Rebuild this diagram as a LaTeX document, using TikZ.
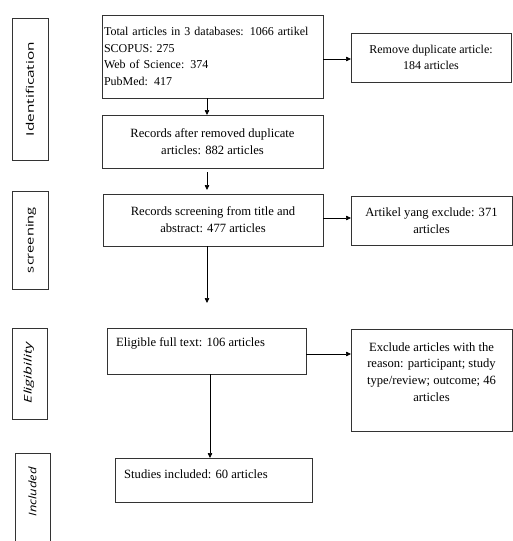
\documentclass[tikz,border=0pt]{standalone}
\usepackage{graphicx}
\usepackage{fontspec}
\setmainfont{Liberation Serif}
\newfontfamily\lblfont{Open Sans}
\usetikzlibrary{arrows.meta}
\newcommand{\fsA}{\fontsize{12}{16.7}\selectfont}
\newcommand{\fsB}{\fontsize{12.6}{16.7}\selectfont}
\begin{document}
\begin{tikzpicture}[x=1pt,y=-1pt,
  box/.style={draw=black!80, line width=0.9pt, inner sep=0pt, outer sep=0pt},
  flow/.style={draw=black, line width=0.7pt, -{Triangle[length=5pt,width=4.5pt]}},
  lbl/.style={rotate=90, inner sep=0pt, font=\lblfont\fontsize{10.5}{10.5}\selectfont},
  txt/.style={inner sep=0pt, align=center}]
\useasboundingbox (0,0) rectangle (513,541);
\fill[white] (0,0) rectangle (513,541);

% stage label boxes
\node[box, minimum width=36pt, minimum height=142pt] (li) at (30,89) {};
\node[lbl] (lit) at (30,89) {\resizebox{94pt}{\height}{Identification}};
\node[box, minimum width=36pt, minimum height=98pt] (ls) at (30,240) {};
\node[lbl] (lst) at (31,240) {\resizebox{66pt}{\height}{screening}};
\node[box, minimum width=35pt, minimum height=91pt] (le) at (29.5,373.5) {};
\node[lbl, font=\lblfont\itshape\fontsize{10.5}{10.5}\selectfont] (let) at (29,372.5) {\resizebox{61pt}{\height}{Eligibility}};
\draw[draw=black!80, line width=0.9pt] (15,545) -- (15,453) -- (50,453) -- (50,545);
\node[lbl, font=\lblfont\itshape\fontsize{10.5}{10.5}\selectfont] (lnt) at (32.5,492) {\resizebox{49pt}{\height}{Included}};

% main flow boxes
\node[box, minimum height=83pt, inner xsep=2pt, text width=217pt, align=left, font=\fsA] (b1) at (212.5,56.5)
  {Total articles in 3 databases: 1066 artikel\\ SCOPUS: 275\\ Web of Science: 374\\ PubMed: 417};
\node[box, minimum width=221pt, minimum height=53pt, align=center, font=\fsB] (b2) at (212.5,141.5)
  {Records after removed duplicate\\ articles: 882 articles};
\node[box, minimum width=220pt, minimum height=52pt, align=center, font=\fsB] (b3) at (213,220)
  {Records screening from title and\\ abstract: 477 articles};
\node[box, minimum width=199pt, minimum height=46pt] (b4) at (206.5,351) {};
\node[txt, anchor=west, font=\fsB] (b4t) at (116,343) {Eligible full text: 106 articles};
\node[box, minimum width=197pt, minimum height=44pt] (b5) at (213.5,480) {};
\node[txt, anchor=west, font=\fsB] (b5t) at (124,474) {Studies included: 60 articles};

% right boxes
\node[box, minimum width=160pt, minimum height=49pt, align=center, font=\fsA] (r1) at (431,57.5)
  {Remove duplicate article:\\ 184 articles};
\node[box, minimum width=161pt, minimum height=49pt, align=center, font=\fsB] (r2) at (431.5,220.5)
  {Artikel yang exclude: 371\\ articles};
\node[box, minimum width=161pt, minimum height=102pt] (r3) at (431.5,380) {};
\node[txt, font=\fsB] (r3t) at (431.5,372)
  {Exclude articles with the\\ reason: participant; study\\ type/review; outcome; 46\\ articles};

% connectors
\coordinate (e3) at (207,303);
\draw[flow] ([xshift=-5.5pt]b1.south) -- ([xshift=-5.5pt]b2.north);
\draw[flow, shorten <=4pt, shorten >=4pt] ([xshift=-5.5pt]b2.south) -- ([xshift=-6pt]b3.north);
\draw[flow] ([xshift=-6pt]b3.south) -- (e3);
\draw[flow] ([xshift=3.5pt]b4.south) -- ([xshift=-3.5pt]b5.north);
\draw[flow] ([yshift=-2.5pt]b1.east) -- ([yshift=-2.5pt]b1.east -| r1.west);
\draw[flow] ([yshift=2pt]b3.east) -- ([yshift=2pt]b3.east -| r2.west);
\draw[flow] ([yshift=-3pt]b4.east) -- ([yshift=-3pt]b4.east -| r3.west);
\end{tikzpicture}
\end{document}
